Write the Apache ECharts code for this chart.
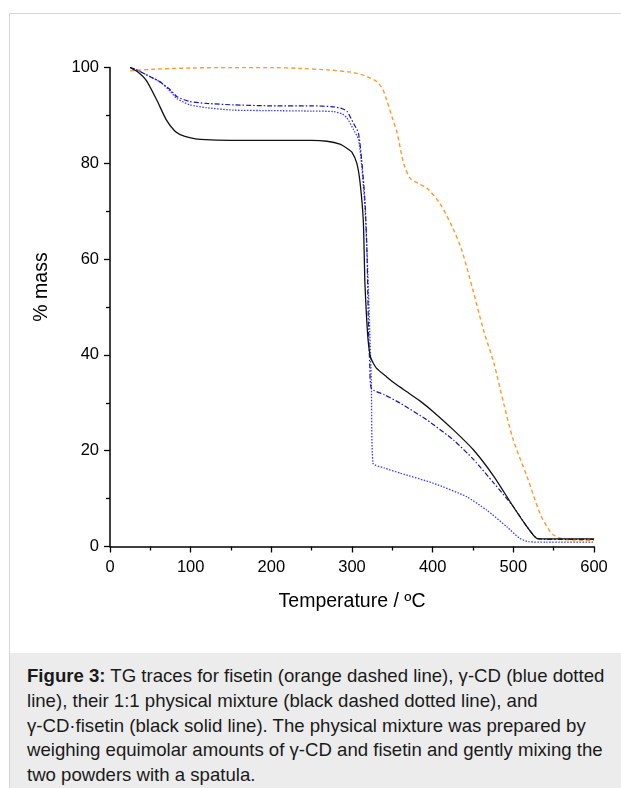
<!DOCTYPE html>
<html>
<head>
<meta charset="utf-8">
<script src="https://cdn.jsdelivr.net/npm/echarts@6/dist/echarts.min.js"></script>
<style>
  html, body { margin: 0; padding: 0; background: #ffffff; width: 621px; height: 788px; overflow: hidden; }
  #frame { position: absolute; left: 9px; top: 13px; width: 700px; height: 800px; border: 1px solid #d6d6d6; box-sizing: border-box; }
  #chart { position: absolute; left: 0; top: 0; width: 621px; height: 640px; }
  #caption { position: absolute; left: 10px; top: 653px; width: 611px; height: 135px; background: #ececec;
    font-family: "Liberation Sans", Arial, sans-serif; font-size: 18.6px; line-height: 24.8px; color: #1a1a1a;
    padding: 11px 0 0 17px; box-sizing: border-box; white-space: nowrap; }
</style>
</head>
<body>
<div id="frame"></div>
<div id="chart"></div>
<div id="caption"><b>Figure 3:</b> TG traces for fisetin (orange dashed line), γ-CD (blue dotted<br>line), their 1:1 physical mixture (black dashed dotted line), and<br>γ-CD·fisetin (black solid line). The physical mixture was prepared by<br>weighing equimolar amounts of γ-CD and fisetin and gently mixing the<br>two powders with a spatula.</div>
<script>
// γ-CD·fisetin (black solid)
const complexT = [25, 35, 45, 58, 70, 80, 87, 100, 112, 150, 200, 250, 269, 285, 294, 300, 306, 310, 314, 316, 318, 320, 323, 330, 343, 355, 368, 385, 401, 426, 451, 476, 500, 517, 529, 540, 560, 600];
const complexM = [100, 99, 97.3, 93.2, 89, 86.8, 86, 85.3, 85, 84.8, 84.8, 84.8, 84.6, 84, 83.1, 82.3, 80, 76, 68, 55, 48, 43, 39.5, 37.3, 35.4, 33.8, 32.3, 30.3, 28.1, 24.3, 20.1, 14.6, 8.3, 4.1, 1.7, 1.6, 1.6, 1.6];

// fisetin (orange dashed)
const fisetinT = [25, 50, 100, 150, 200, 236, 270, 300, 310, 320, 331, 338, 343, 350, 356, 364, 372, 382, 393, 409, 426, 436, 450, 463, 476, 488, 500, 517, 533, 543, 550, 566, 600];
const fisetinM = [99.3, 99.6, 99.9, 100, 100, 99.8, 99.5, 99, 98.6, 98, 97, 95.5, 93.2, 89.5, 86.3, 80, 76.9, 75.8, 74.8, 71.6, 66.1, 61.9, 53.5, 45.2, 38.2, 29.9, 22.2, 14.6, 6.9, 3.8, 2.4, 1.4, 1.3];

// physical mixture (dash-dot)
const mixT = [25, 33, 45, 62, 75, 83, 99, 120, 153, 200, 250, 277, 288, 294, 302, 308, 312, 316, 318.5, 320.5, 322, 324, 340, 360, 393, 426, 451, 476, 500, 517, 529, 540, 600];
const mixM = [100, 99.5, 98.5, 97, 95.3, 93.9, 92.9, 92.5, 92.2, 92, 92, 91.8, 91.4, 90.8, 88.3, 86.3, 80.7, 72.3, 61.9, 45.2, 38, 33, 31.7, 29.9, 26.4, 22.2, 18.1, 13.2, 8.3, 4.1, 1.7, 1.5, 1.5];

// γ-CD (blue dotted)
const cdT = [25, 33, 45, 62, 75, 83, 99, 120, 153, 200, 250, 277, 288, 294, 302, 308, 312, 316, 319, 322, 324, 326, 340, 360, 401, 442, 467, 492, 508, 519, 540, 600];
const cdM = [100, 99.5, 98.5, 97, 95, 93.5, 92.2, 91.6, 91.1, 91, 90.9, 90.8, 90.3, 89.4, 87, 85, 79.5, 71, 60, 45, 34, 17.4, 16.4, 15.3, 13.2, 10.4, 7.6, 4.1, 1.7, 1.0, 0.9, 0.9];

const xTicks = [0, 100, 200, 300, 400, 500, 600];
const yTicks = [0, 20, 40, 60, 80, 100];

function pairs(t, m) { return t.map((v, i) => [v, m[i]]); }

const chart = echarts.init(document.getElementById('chart'), null, { renderer: 'canvas' });
const axisFont = { fontFamily: 'Liberation Sans, Arial, sans-serif', fontSize: 16.5, color: '#000' };
const titleFont = { fontFamily: 'Liberation Sans, Arial, sans-serif', fontSize: 19.5, color: '#000' };
chart.setOption({
  animation: false,
  backgroundColor: 'transparent',
  grid: { left: 110, right: 27, top: 67.5, bottom: 93.5, containLabel: false },
  xAxis: {
    type: 'value', min: xTicks[0], max: xTicks[xTicks.length - 1], interval: 100,
    name: 'Temperature / ºC', nameLocation: 'middle', nameGap: 45,
    nameTextStyle: titleFont,
    axisLine: { onZero: false, lineStyle: { color: '#000', width: 1.5 } },
    axisTick: { show: true, inside: false, length: 6, lineStyle: { color: '#000', width: 1.3 } },
    minorTick: { show: true, splitNumber: 2, length: 4, lineStyle: { color: '#000', width: 1.3 } },
    axisLabel: Object.assign({ margin: 12 }, axisFont),
    splitLine: { show: false }
  },
  yAxis: {
    type: 'value', min: yTicks[0], max: yTicks[yTicks.length - 1], interval: 20,
    name: '% mass', nameLocation: 'middle', nameGap: 58, nameRotate: 90,
    nameTextStyle: Object.assign({ padding: [0, 0, 0, 40] }, titleFont),
    axisLine: { show: true, onZero: false, lineStyle: { color: '#000', width: 1.5 } },
    axisTick: { show: true, inside: false, length: 6, lineStyle: { color: '#000', width: 1.3 } },
    minorTick: { show: true, splitNumber: 2, length: 4, lineStyle: { color: '#000', width: 1.3 } },
    axisLabel: Object.assign({ margin: 11 }, axisFont),
    splitLine: { show: false }
  },
  series: [
    { name: 'fisetin', type: 'line', data: pairs(fisetinT, fisetinM), showSymbol: false, smooth: 0.3,
      lineStyle: { color: '#ff9a28', width: 1.4, type: [4, 3] } },
    { name: 'γ-CD', type: 'line', data: pairs(cdT, cdM), showSymbol: false, smooth: 0.2,
      lineStyle: { color: '#3a3aff', width: 1.3, type: [1.5, 1.5] } },
    { name: 'physical mixture', type: 'line', data: pairs(mixT, mixM), showSymbol: false, smooth: 0.2,
      lineStyle: { color: '#1414b4', width: 1.2, type: [5, 2, 1.5, 2] } },
    { name: 'γ-CD·fisetin', type: 'line', data: pairs(complexT, complexM), showSymbol: false, smooth: 0.2,
      lineStyle: { color: '#111', width: 1.3, type: 'solid' } }
  ]
});
</script>
</body>
</html>
